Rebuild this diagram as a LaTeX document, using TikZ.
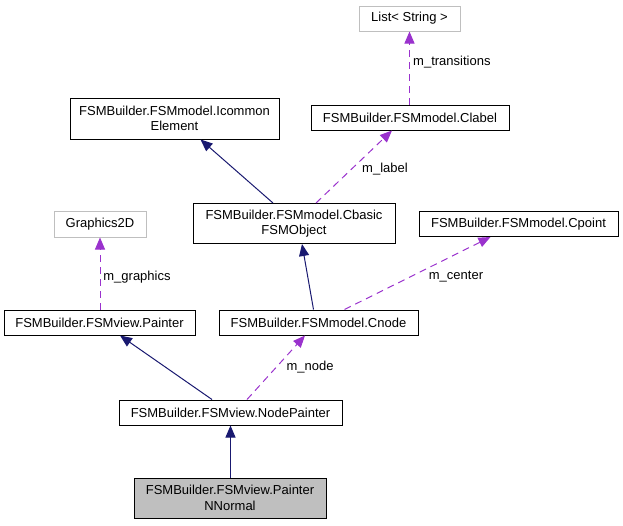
\documentclass[tikz,border=0pt]{standalone}
\usepackage{fontspec}
\setmainfont{Liberation Sans}
\usetikzlibrary{arrows.meta}
\definecolor{navyedge}{HTML}{191970}
\definecolor{purpleedge}{HTML}{9A32CD}
\definecolor{boxgray}{HTML}{BFBFBF}
\tikzset{
  cls/.style={draw=black, line width=1pt, fill=white, inner sep=0pt, align=center,
    font=\fontsize{13}{15.5}\selectfont},
  ext/.style={cls, draw=boxgray},
  cur/.style={cls, fill=boxgray},
  inherit/.style={draw=navyedge, line width=1pt, -{Triangle[length=12pt,width=10pt]}},
  uses/.style={draw=purpleedge, line width=1pt, dash pattern=on 7pt off 5pt,
    -{Triangle[length=12pt,width=10pt,fill=purpleedge]}},
  lbl/.style={inner sep=0pt, font=\fontsize{13}{15.5}\selectfont}
}
\begin{document}
\begin{tikzpicture}[x=1pt, y=-1pt]
\useasboundingbox (0,0) rectangle (623,525);
% nodes
\node[ext, minimum width=101pt, minimum height=25pt] (list) at (409.5,18.5) {List< String >};
\node[cls, minimum width=198pt, minimum height=25pt] (clabel) at (410,117.5) {FSMBuilder.FSMmodel.Clabel};
\node[cls, minimum width=209pt, minimum height=41pt] (icommon) at (174.5,118.5) {FSMBuilder.FSMmodel.Icommon\\Element};
\node[ext, minimum width=92pt, minimum height=26pt] (graphics) at (100,224) {Graphics2D};
\node[cls, minimum width=202pt, minimum height=40pt] (cbasic) at (294,223.5) {FSMBuilder.FSMmodel.Cbasic\\FSMObject};
\node[cls, minimum width=199pt, minimum height=25pt] (cpoint) at (518.5,224) {FSMBuilder.FSMmodel.Cpoint};
\node[cls, minimum width=191pt, minimum height=25pt] (painter) at (99.5,322.5) {FSMBuilder.FSMview.Painter};
\node[cls, minimum width=199pt, minimum height=25pt] (cnode) at (318.5,322.5) {FSMBuilder.FSMmodel.Cnode};
\node[cls, minimum width=223pt, minimum height=25pt] (nodepainter) at (230.5,412.5) {FSMBuilder.FSMview.NodePainter};
\node[cur, minimum width=192pt, minimum height=40pt] (nnormal) at (230,498) {FSMBuilder.FSMview.Painter\\NNormal};
% edges
\draw[uses] (clabel.north -| list.south) -- (list.south);
\node[lbl, anchor=west] (lt) at (413,62) {m\_transitions};
\draw[uses] ([xshift=22pt]cbasic.north) -- ([xshift=-18pt]clabel.south);
\node[lbl] (ll) at (385,169) {m\_label};
\draw[inherit] ([xshift=-21pt]cbasic.north) -- ([xshift=26pt]icommon.south);
\draw[inherit] ([xshift=-5pt]cnode.north) -- ([xshift=8pt]cbasic.south);
\draw[uses] ([xshift=26pt]cnode.north) -- ([xshift=-28pt]cpoint.south);
\node[lbl] (lc) at (456,277) {m\_center};
\draw[uses] (painter.north -| graphics.south) -- (graphics.south);
\node[lbl] (lg) at (137,277) {m\_graphics};
\draw[inherit] ([xshift=-18.5pt]nodepainter.north) -- ([xshift=20.5pt]painter.south);
\draw[uses] ([xshift=16.5pt]nodepainter.north) -- ([xshift=-13.5pt]cnode.south);
\node[lbl] (ln) at (310,367) {m\_node};
\draw[inherit] (nnormal.north -| nodepainter.south) -- (nodepainter.south);
\end{tikzpicture}
\end{document}
